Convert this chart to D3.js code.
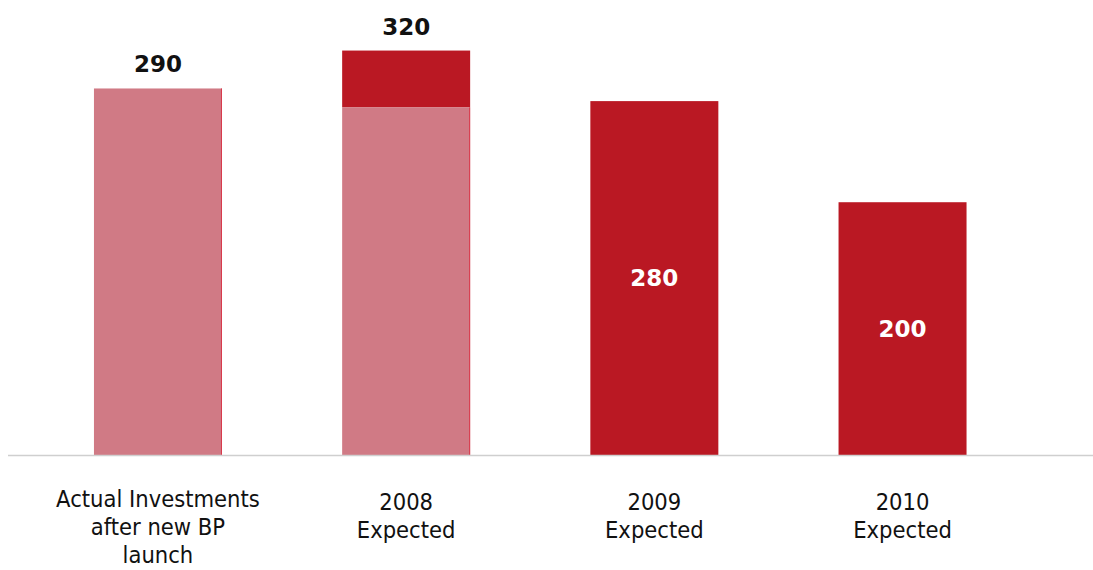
<!DOCTYPE html>
<html>
<head>
<meta charset="utf-8">
<script src="https://cdn.jsdelivr.net/npm/d3@7"></script>
<style>
  html, body { margin: 0; padding: 0; background: #fff; }
  svg { display: block; }
</style>
</head>
<body>
<svg id="chart" width="1093" height="570"></svg>
<script>
// Investment plan: actual vs expected
const categories = ["Actual Investments|after new BP|launch", "2008|Expected", "2009|Expected", "2010|Expected"];
const totals = [290, 320, 280, 200];
// portion of each bar already committed (light segment)
const actualPart = [290, 275, 0, 0];
const labelInside = [false, false, true, true];

const colors = { light: "#D07A85", lightEdge: "#D9384A", dark: "#BA1823" };

const svg = d3.select("#chart");
const W = 1093, H = 570;
const baseY = 455;

const x = d3.scaleBand()
  .domain(categories)
  .range([20, 1040.5])
  .paddingInner(0.4843)
  .paddingOuter(0.298);

const y = d3.scaleLinear().domain([0, 360]).range([baseY, 0]);

const data = categories.map((c, i) => ({
  cat: c, total: totals[i], actual: actualPart[i], inside: labelInside[i]
}));

// dark (expected) segment
svg.selectAll("rect.dark")
  .data(data.filter(d => d.total > d.actual))
  .join("rect")
  .attr("class", "dark")
  .attr("x", d => x(d.cat))
  .attr("width", x.bandwidth())
  .attr("y", d => y(d.total))
  .attr("height", d => y(d.actual) - y(d.total))
  .attr("fill", colors.dark);

// light (actual) segment
svg.selectAll("rect.light")
  .data(data.filter(d => d.actual > 0))
  .join("rect")
  .attr("class", "light")
  .attr("x", d => x(d.cat))
  .attr("width", x.bandwidth())
  .attr("y", d => y(d.actual))
  .attr("height", d => baseY - y(d.actual))
  .attr("fill", colors.light);

// thin edge on right side of light bars
svg.selectAll("line.edge")
  .data(data.filter(d => d.actual > 0))
  .join("line")
  .attr("class", "edge")
  .attr("x1", d => x(d.cat) + x.bandwidth() - 0.5)
  .attr("x2", d => x(d.cat) + x.bandwidth() - 0.5)
  .attr("y1", d => y(d.actual))
  .attr("y2", baseY)
  .attr("stroke", colors.lightEdge)
  .attr("stroke-width", 1);

// baseline
svg.append("line")
  .attr("x1", 8).attr("x2", W)
  .attr("y1", baseY + 0.5).attr("y2", baseY + 0.5)
  .attr("stroke", "#cfcfcf").attr("stroke-width", 1.5);

// value labels
svg.selectAll("text.val")
  .data(data)
  .join("text")
  .attr("class", "val")
  .attr("x", d => x(d.cat) + x.bandwidth() / 2)
  .attr("y", d => d.inside ? (y(d.total) + baseY) / 2 : y(d.total) - 16)
  .attr("dy", d => d.inside ? "0.36em" : 0)
  .attr("text-anchor", "middle")
  .attr("font-family", "'DejaVu Sans', Verdana, sans-serif")
  .attr("font-weight", "bold")
  .attr("font-size", 23)
  .attr("fill", d => d.inside ? "#fff" : "#111")
  .text(d => d.total);

// category labels
const cat = svg.selectAll("text.cat")
  .data(data)
  .join("text")
  .attr("class", "cat")
  .attr("x", d => x(d.cat) + x.bandwidth() / 2)
  .attr("y", (d, i) => i === 0 ? 507 : 510)
  .attr("text-anchor", "middle")
  .attr("font-family", "'DejaVu Sans Condensed', 'Liberation Sans Narrow', sans-serif")
  .attr("font-size", 23.5)
  .attr("fill", "#111");

cat.selectAll("tspan")
  .data(d => d.cat.split("|").map(t => ({ t, x: x(d.cat) + x.bandwidth() / 2 })))
  .join("tspan")
  .attr("x", d => d.x)
  .attr("dy", (d, i) => i === 0 ? 0 : 28)
  .text(d => d.t);
</script>
</body>
</html>
